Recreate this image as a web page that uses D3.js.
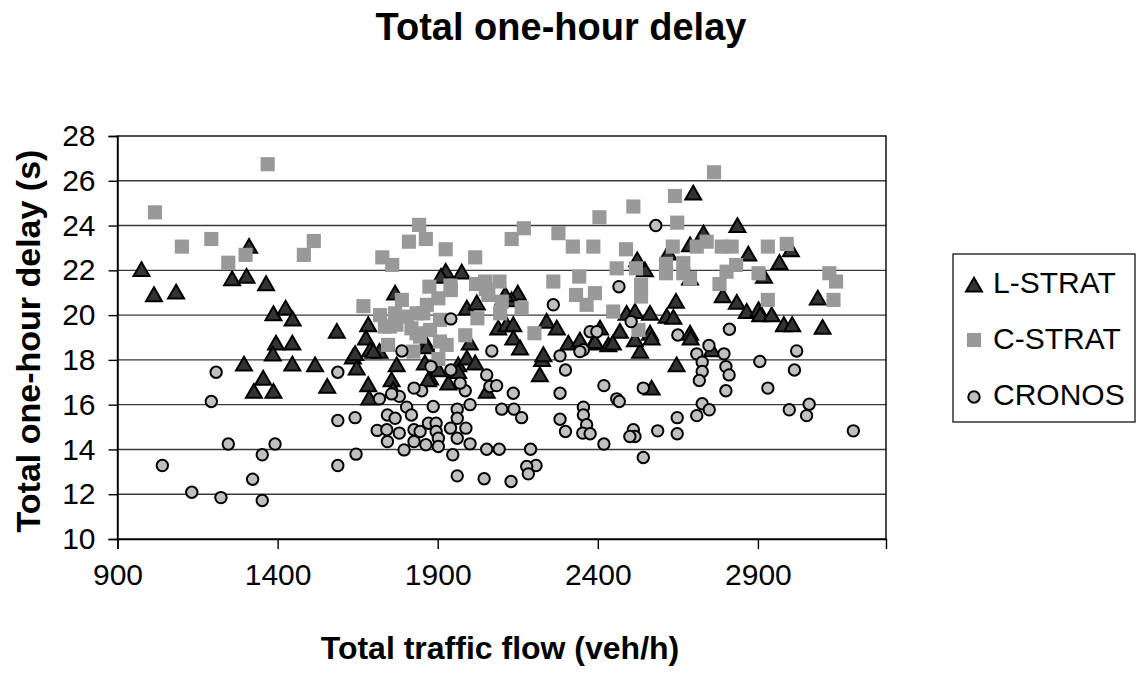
<!DOCTYPE html>
<html><head><meta charset="utf-8">
<script src="https://cdn.jsdelivr.net/npm/d3@7"></script>
<style>body{margin:0;background:#fff}svg{display:block}text{font-family:"Liberation Sans",Arial,sans-serif}</style>
</head><body>
<svg id="c" width="1138" height="675"></svg>
<script>
const chartTitle = "Total one-hour delay";
const xTitle = "Total traffic flow (veh/h)";
const yTitle = "Total one-hour delay (s)";
const xTicks = [900, 1400, 1900, 2400, 2900];
const yTicks = [10, 12, 14, 16, 18, 20, 22, 24, 26, 28];
const seriesNames = ["L-STRAT", "C-STRAT", "CRONOS"];

const lstrat = [[975,21.95],[1014,20.83],[1083,20.95],[1311,22.99],[1258,21.54],[1303,21.65],[1364,21.32],[1387,19.98],[1425,20.23],[1447,19.74],[1585,19.19],[1395,18.67],[1446,18.67],[1385,18.18],[1295,17.73],[1446,17.73],[1517,17.7],[1635,18.04],[1355,17.1],[1326,16.51],[1387,16.51],[1555,16.74],[1647,17.55],
[1925,21.87],[1910,21.65],[1975,21.84],[1767,20.9],[1991,20.23],[2022,20.46],[2105,20.68],[2150,20.9],[2131,20.6],[2240,19.64],[2272,19.34],[1683,19.49],[2089,19.34],[2115,19.49],[2136,19.49],
[2698,25.37],[2836,23.92],[2730,23.58],[2688,23.06],[2620,22.69],[2547,21.94],[2523,22.39],[2870,22.64],[2967,22.27],[3003,22.83],[2919,21.65],[2688,21.57],[2790,20.78],[2644,20.53],[2834,20.49],[2865,20.08],[2902,20.16],[2907,19.93],[2943,19.93],[2981,19.49],[3007,19.49],[3087,20.68],[3102,19.37],[2490,20.0],[2516,20.08],[2563,20.0],[2615,19.86],[2636,19.82],[2407,19.34],[2469,19.19],[2563,19.11],[2688,19.11],
[2646,17.7],[2568,16.66],[2532,18.3],[2433,18.59],[2690,18.89],[2386,18.67],[2568,18.89],[2756,18.37],[2516,18.82],
[1683,16.81],[1686,16.21],[1676,18.89],[1689,18.37],[1718,18.3],[1772,17.7],[1756,17.03],[1761,16.59],[1863,18.67],[1860,17.78],[1876,17.11],[1902,17.48],[1933,16.88],[1964,17.7],[1991,18.0],[2017,17.78],[2053,16.51],[2136,18.89],[2157,18.45],[2226,17.93],[2219,17.25],[2308,18.67],[2391,18.74],
[1866,18.5],[2000,18.67],[1642,18.2],[1699,18.3],[2111,20.83],[2344,18.8],[2230,18.15],[2447,18.67],[1870,17.03],[1964,17.4]];

const cstrat = [[1369,26.74],[1017,24.59],[1101,23.06],[1193,23.4],[1246,22.34],[1300,22.69],[1482,22.69],[1513,23.31],[1668,20.4],
[1727,22.58],[1758,22.24],[1810,23.28],[1842,24.03],[1863,23.4],[1925,22.94],[2017,22.58],[2131,23.4],[2169,23.88],[2277,23.66],[2322,23.06],[2386,23.06],[2405,24.37],[1874,21.27],[1940,21.32],[2020,21.39],[2050,21.16],[2093,21.5],[2100,20.6],[2095,20.08],[2162,20.31],[2261,21.5],[2342,21.72],[2332,20.9],[2365,20.46],[2391,20.98],[1788,20.68],[1866,20.46],[1902,20.75],[1941,21.12],[1907,19.79],[1855,20.08],[1986,19.1],[2024,19.86],[2202,19.19],
[2763,26.38],[2641,25.32],[2511,24.85],[2648,24.13],[2488,22.94],[2634,23.06],[2709,23.06],[2740,23.28],[2787,23.06],[2818,23.06],[2931,23.06],[2990,23.18],[2459,22.09],[2519,22.09],[2613,22.29],[2613,21.87],[2667,22.32],[2667,21.87],[2688,21.65],[2802,21.94],[2832,22.24],[2780,21.39],[2902,21.87],[3123,21.87],[3144,21.5],[3136,20.68],[2931,20.68],[2448,20.16],[2535,21.35],[2535,20.83],[2527,19.34],
[1751,19.49],[1745,18.67],[1824,18.37],[1834,19.19],[1876,19.34],[1928,18.67],[1902,18.04],
[1720,20.0],[1834,20.08],[1803,19.93],[1767,20.08],[1735,19.49],[1771,19.57],[1818,19.41],[1845,19.04],[1907,18.82],[2048,21.5],[2058,20.9]];

const cronos = [[1208,17.45],[1193,16.14],[1588,17.45],[1588,15.29],[1642,15.42],[1246,14.24],[1392,14.24],[1352,13.76],[1040,13.28],[1588,13.28],[1645,13.79],[1322,12.67],[1132,12.09],[1223,11.85],[1352,11.72],
[1941,19.83],[2261,20.46],[2376,19.26],[2397,19.26],
[2581,24.0],[2466,21.27],[2504,19.71],[2811,19.37],[2650,19.11],
[2355,18.45],[2747,18.64],[2709,18.27],[2794,18.27],[2726,17.9],[2800,17.7],[2726,17.48],[2810,17.33],[2717,17.08],[2800,16.62],[2906,17.93],[3021,18.4],[3014,17.55],[2931,16.74],[2419,16.85],[2459,16.26],[2467,16.14],[2542,16.74],[2355,15.89],[2355,15.54],[2365,15.1],[2353,14.73],[2376,14.7],[2419,14.24],[2511,14.88],[2516,14.58],[2500,14.58],[2542,13.64],[2587,14.83],[2648,15.42],[2648,14.7],[2709,15.51],[2726,16.04],[2748,15.77],[2998,15.77],[3060,16.02],[3052,15.51],[3198,14.83],
[1788,18.4],[1879,17.7],[1941,17.55],[2069,18.4],[2282,18.18],[2299,17.55],[2344,18.37],[2053,17.33],[2063,16.81],[2084,16.85],[2136,16.51],[2282,16.51],[1986,16.62],[1970,16.96],[1850,16.62],[1826,16.74],[1780,16.37],[1756,16.48],[1718,16.26],[1803,15.89],[1818,15.54],[1886,15.92],[1961,15.8],[2001,16.0],[2100,15.8],[2138,15.8],[2162,15.42],[1743,15.54],[1767,15.39],[1711,14.85],[1741,14.88],[1780,14.73],[1743,14.35],[1795,13.98],[1826,14.88],[1826,14.35],[1845,14.8],[1863,14.21],[1871,15.17],[1895,15.17],[1895,14.8],[1902,14.5],[1902,14.13],[1940,14.95],[1961,15.39],[1961,14.5],[1988,14.95],[2001,14.25],[1947,13.76],[2053,14.01],[2092,14.01],[2190,14.01],[2207,13.28],[2178,13.24],[2183,12.91],[1961,12.82],[2045,12.69],[2129,12.57],[2282,15.35],[2299,14.8]];

const svg = d3.select("#c");
const x = d3.scaleLinear().domain([900, 3300]).range([117.5, 886]);
const y = d3.scaleLinear().domain([10, 28]).range([539, 136]);
const FONT = '"Liberation Sans", Arial, sans-serif';

// grid
svg.append("g").selectAll("line").data(yTicks.slice(1, -1)).join("line")
  .attr("x1", x(900)).attr("x2", x(3300)).attr("y1", d => y(d)).attr("y2", d => y(d))
  .attr("stroke", "#3a3a3a").attr("stroke-width", 1.4);

// plot border
svg.append("rect").attr("x", x(900)).attr("y", y(28)).attr("width", x(3300) - x(900)).attr("height", y(10) - y(28))
  .attr("fill", "none").attr("stroke", "#000").attr("stroke-width", 1.4);

// axes
const xAxis = svg.append("g").attr("transform", `translate(0,${y(10)})`)
  .call(d3.axisBottom(x).tickValues(xTicks).tickSize(10).tickPadding(15).tickFormat(d3.format("d")));
const yAxis = svg.append("g").attr("transform", `translate(${x(900)},0)`)
  .call(d3.axisLeft(y).tickValues(yTicks).tickSize(9).tickPadding(13).tickFormat(d3.format("d")));
[xAxis, yAxis].forEach(a => {
  a.select(".domain").attr("stroke", "#000").attr("stroke-width", 1.4);
  a.selectAll(".tick line").attr("stroke", "#000").attr("stroke-width", 1.4);
  a.selectAll("text").attr("font-size", 30).attr("fill", "#000").attr("font-family", FONT);
});

const tri = d3.symbol().type(d3.symbolTriangle).size(110);
const sq = d3.symbol().type(d3.symbolSquare).size(200);

svg.append("g").selectAll("path").data(lstrat).join("path")
  .attr("d", tri).attr("transform", d => `translate(${x(d[0])},${y(d[1])})`)
  .attr("fill", "#333").attr("stroke", "#000").attr("stroke-width", 2);
svg.append("g").selectAll("path").data(cstrat).join("path")
  .attr("d", sq).attr("transform", d => `translate(${x(d[0])},${y(d[1])})`)
  .attr("fill", "#999");
svg.append("g").selectAll("circle").data(cronos).join("circle")
  .attr("cx", d => x(d[0])).attr("cy", d => y(d[1])).attr("r", 5.7)
  .attr("fill", "#c0c0c0").attr("stroke", "#000").attr("stroke-width", 2);

// titles
svg.append("text").attr("x", 561).attr("y", 40).attr("text-anchor", "middle")
  .attr("font-size", 38).attr("font-weight", "bold").text(chartTitle);
svg.append("text").attr("x", 500).attr("y", 659).attr("text-anchor", "middle")
  .attr("font-size", 32).attr("font-weight", "bold").text(xTitle);
svg.append("text").attr("transform", "translate(40,341) rotate(-90)").attr("text-anchor", "middle")
  .attr("font-size", 34).attr("font-weight", "bold").text(yTitle);

// legend
const lg = svg.append("g");
lg.append("rect").attr("x", 953).attr("y", 254).attr("width", 182).attr("height", 168)
  .attr("fill", "#fff").attr("stroke", "#000").attr("stroke-width", 1.2);
const legendBase = [293, 349, 405];
const markerY = [287, 340, 397];
const markerFns = [
  g => g.append("path").attr("d", tri).attr("fill", "#333").attr("stroke", "#000").attr("stroke-width", 2),
  g => g.append("path").attr("d", sq).attr("fill", "#999"),
  g => g.append("circle").attr("r", 5.7).attr("fill", "#c0c0c0").attr("stroke", "#000").attr("stroke-width", 2)
];
seriesNames.forEach((n, i) => {
  const g = lg.append("g").attr("transform", `translate(974,${markerY[i]})`);
  markerFns[i](g);
  lg.append("text").attr("x", 993).attr("y", legendBase[i])
    .attr("font-size", 30).text(n);
});
</script>
</body></html>
